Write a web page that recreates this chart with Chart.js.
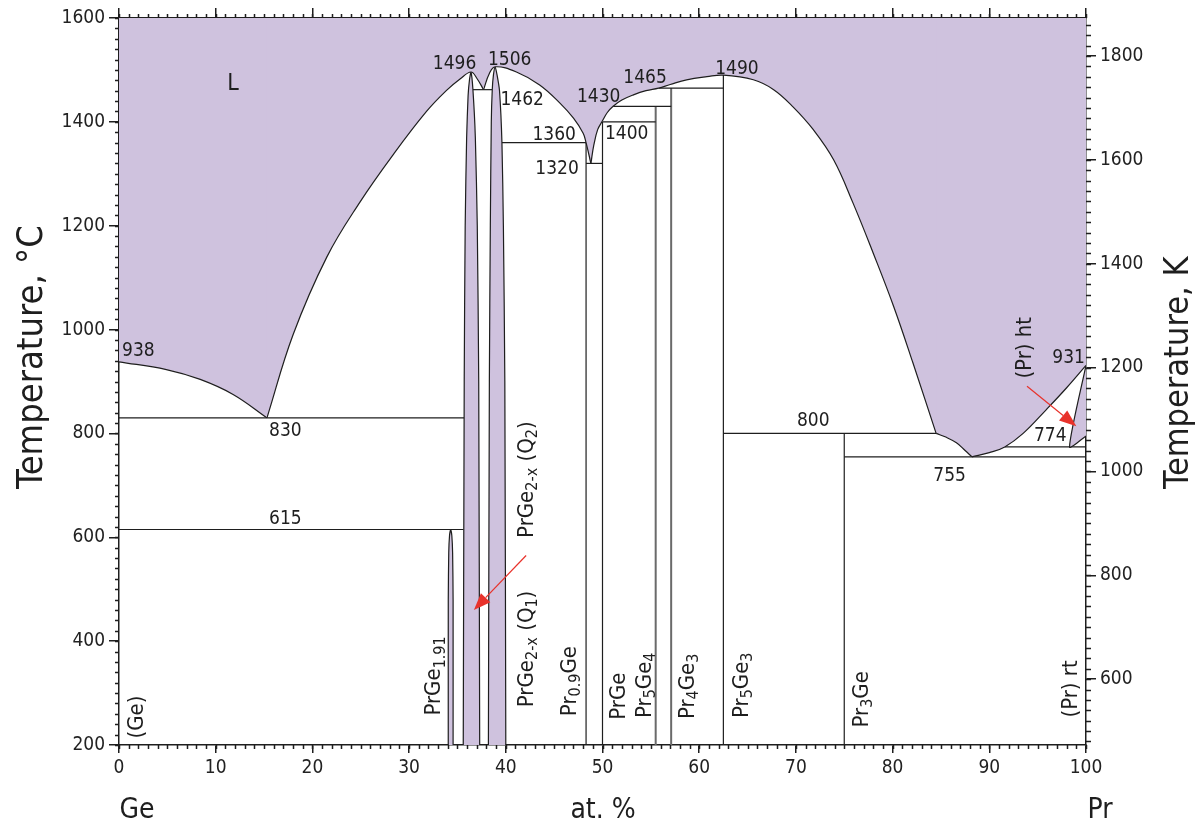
<!DOCTYPE html>
<html><head><meta charset="utf-8">
<script src="https://cdn.jsdelivr.net/npm/chart.js@4.4.1/dist/chart.umd.min.js"></script>
<style>html,body{margin:0;padding:0;background:#fff;}canvas{display:block;}</style>
</head><body>
<canvas id="c" width="1201" height="825"></canvas>
<script>
// ---------------- DATA ----------------
const xTicks  = [0,10,20,30,40,50,60,70,80,90,100];
const yTicksC = [200,400,600,800,1000,1200,1400,1600];
const yTicksK = [600,800,1000,1200,1400,1600,1800];

// liquidus branches (at.% Pr, °C)
const liqGe     = [[0,938],[4.9,923],[8.4,904],[11.8,875],[15.3,830]];
const liqQ1     = [[15.3,830],[18,990],[21.5,1140],[24.9,1245],[28.4,1338],[31.8,1420],[33.9,1461],[35.3,1483],[36.4,1496],[37.0,1484],[37.7,1462]];
const liqQ2     = [[37.7,1462],[38.3,1493],[38.9,1506],[41.1,1496],[43.5,1471],[45.6,1436],[47.0,1407],[48.0,1378],[48.3,1360],[48.8,1320]];
const liqPr5Ge3 = [[48.8,1320],[49.1,1355],[49.5,1385],[50.0,1402],[50.5,1418],[51.1,1430],[52.0,1442],[53.2,1452],[54.5,1460],[55.8,1465],[57.0,1472],[58.7,1481],[60.8,1487],[62.5,1490],[65.6,1481],[67.7,1462],[69.7,1429],[71.8,1385],[73.9,1327],[75.9,1244],[78.0,1147],[80.1,1045],[82.1,936],[84.5,800]];
const liqPr3Ge  = [[84.5,800],[85.5,793],[86.6,782],[87.5,767],[88.2,755]];
const liqPr     = [[88.2,755],[90.0,763],[91.6,774],[93.5,800],[95.9,846],[98.0,888],[100,931]];

// homogeneity ranges (closed shapes)
const lensPrGe191 = [[34.05,200],[34.05,480],[34.1,570],[34.18,603],[34.3,615],[34.42,603],[34.5,570],[34.55,480],[34.55,200]];
const lensQ1 = [[35.6,200],[35.7,900],[35.8,1200],[35.95,1370],[36.1,1450],[36.25,1482],[36.4,1496],[36.6,1462],[36.85,1370],[37.05,1200],[37.2,900],[37.3,200]];
const lensQ2 = [[38.2,200],[38.3,900],[38.4,1200],[38.5,1400],[38.6,1462],[38.72,1490],[38.9,1506],[39.1,1490],[39.35,1460],[39.6,1360],[39.75,1200],[39.9,900],[40.0,200]];
const prHt   = [[100,931],[98.3,774],[100,795]];

// invariant lines [x1, x2, T]
const hLines = [[0,35.7,830],[0,35.65,615],[36.6,38.6,1462],[39.6,48.3,1360],[48.3,50,1320],[50,55.5,1400],[51.1,57.1,1430],[55.8,62.5,1465],[62.5,84.5,800],[75,100,755],[91.6,100,774]];
// compound lines [x, T1, T2]
const vLines = [[48.3,200,1360],[50,200,1400],[62.5,200,1490],[75,200,800]];
const vLinesGray = [[55.5,200,1430],[57.1,200,1465]];

// number labels [text, x, T]
const numLabels = [['938',2.0,962],['830',17.2,808],['615',17.2,638],['1496',34.7,1515],['1506',40.4,1523],['1462',41.7,1446],
  ['1360',45.0,1379],['1320',45.3,1312],['1430',49.6,1452],['1400',52.5,1381],['1465',54.4,1488],['1490',63.9,1506],
  ['800',71.8,827],['755',85.9,721],['774',96.3,798],['931',98.2,948]];
// phase labels (rotated) [parts, x, T]; part = [text, isSubscript]
const phaseLabels = [
  [[['(Ge)']],1.7,254],
  [[['PrGe'],['1.91',1]],32.4,333],
  [[['PrGe'],['2-x',1],[' (Q'],['1',1],[')']],42.0,385],
  [[['PrGe'],['2-x',1],[' (Q'],['2',1],[')']],42.0,711],
  [[['Pr'],['0.9',1],['Ge']],46.4,323],
  [[['PrGe']],51.5,294],
  [[['Pr'],['5',1],['Ge'],['4',1]],54.2,315],
  [[['Pr'],['4',1],['Ge'],['3',1]],58.6,313],
  [[['Pr'],['5',1],['Ge'],['3',1]],64.2,315],
  [[['Pr'],['3',1],['Ge']],76.6,288],
  [[['(Pr) rt']],98.3,308],
  [[['(Pr) ht']],93.5,965]
];
// arrows [x0, T0, x1, T1]
const arrows = [[42.1,565,36.7,460],[93.9,891,99.0,814]];

// ---------------- STYLE ----------------
const FONT = '"DejaVu Sans Condensed","DejaVu Sans",sans-serif';
const PURPLE = '#cfc2de';
const INK = '#1e1e1e';
const pts = a => a.map(p => ({x:p[0], y:p[1]}));

const liquidus = [liqGe, liqQ1, liqQ2, liqPr5Ge3, liqPr3Ge, liqPr];
const datasets = [];
liquidus.forEach(seg => datasets.push({
  data: pts(seg), showLine:true, fill:'end', backgroundColor:PURPLE, borderColor:INK, borderWidth:1.2,
  pointRadius:0, tension:0.4
}));
[lensPrGe191, lensQ1, lensQ2, prHt].forEach(seg => datasets.push({
  data: pts(seg), showLine:true, fill:'shape', backgroundColor:PURPLE, borderColor:INK, borderWidth:1.2,
  pointRadius:0, tension:0.2
}));
hLines.forEach(l => datasets.push({data: pts([[l[0],l[2]],[l[1],l[2]]]), showLine:true, fill:false, borderColor:INK, borderWidth:1.2, pointRadius:0}));
vLines.forEach(l => datasets.push({data: pts([[l[0],l[1]],[l[0],l[2]]]), showLine:true, fill:false, borderColor:INK, borderWidth:1.2, pointRadius:0}));
vLinesGray.forEach(l => datasets.push({data: pts([[l[0],l[1]],[l[0],l[2]]]), showLine:true, fill:false, borderColor:'#6a6a6a', borderWidth:2, pointRadius:0}));
// purple strokes under the junctions of liquidus branches (hide fill seams)
liquidus.slice(1).forEach(seg => datasets.push({data: pts([[seg[0][0], seg[0][1]+4],[seg[0][0],1600]]), showLine:true, fill:false,
  borderColor:PURPLE, borderWidth:2.5, pointRadius:0, order:10}));

function drawRich(ctx, parts, px, py, size, vertical, align) {
  const sub = Math.round(size*0.72);
  let total = 0;
  const w = parts.map(p => { ctx.font = `${p[1]?sub:size}px ${FONT}`; const m = ctx.measureText(p[0]).width; total += m; return m; });
  ctx.save();
  ctx.translate(px, py);
  if (vertical) ctx.rotate(-Math.PI/2);
  ctx.textAlign = 'left'; ctx.textBaseline = 'alphabetic';
  let cx = align === 'start' ? 0 : -total/2;
  const base = size*0.36;
  parts.forEach((p,i) => { ctx.font = `${p[1]?sub:size}px ${FONT}`; ctx.fillText(p[0], cx, base + (p[1]? size*0.2 : 0)); cx += w[i]; });
  ctx.restore();
}

const overlay = {
  id:'overlay',
  afterDraw(chart) {
    const ctx = chart.ctx, xs = chart.scales.x, ys = chart.scales.y, yk = chart.scales.yK;
    const a = chart.chartArea;
    ctx.save();
    // minor ticks
    ctx.strokeStyle = INK; ctx.lineWidth = 1.5;
    ctx.beginPath();
    for (let v = 0; v <= 100; v += 1) {
      const px = Math.round(xs.getPixelForValue(v)) + 0.5;
      ctx.moveTo(px, a.bottom); ctx.lineTo(px, a.bottom + 4);
      ctx.moveTo(px, a.top); ctx.lineTo(px, a.top - 4);
    }
    for (let v = 200; v <= 1600; v += 20) {
      const py = Math.round(ys.getPixelForValue(v)) + 0.5;
      ctx.moveTo(a.left, py); ctx.lineTo(a.left - 4, py);
    }
    for (let v = 480; v <= 1860; v += 20) {
      const py = Math.round(yk.getPixelForValue(v)) + 0.5;
      ctx.moveTo(a.right, py); ctx.lineTo(a.right + 5, py);
    }
    ctx.stroke();
    // arrows
    ctx.strokeStyle = '#e8322b'; ctx.fillStyle = '#e8322b'; ctx.lineWidth = 1.2;
    arrows.forEach(r => {
      const x0 = xs.getPixelForValue(r[0]), y0 = ys.getPixelForValue(r[1]);
      const x1 = xs.getPixelForValue(r[2]), y1 = ys.getPixelForValue(r[3]);
      const ang = Math.atan2(y1-y0, x1-x0), L = 17, H = 6.5;
      const bx = x1 - L*Math.cos(ang), by = y1 - L*Math.sin(ang);
      ctx.beginPath(); ctx.moveTo(x0,y0); ctx.lineTo(bx,by); ctx.stroke();
      ctx.beginPath(); ctx.moveTo(x1,y1);
      ctx.lineTo(bx + H*Math.sin(ang), by - H*Math.cos(ang));
      ctx.lineTo(bx - H*Math.sin(ang), by + H*Math.cos(ang));
      ctx.closePath(); ctx.fill();
    });
    // texts
    ctx.fillStyle = '#1e1e1e';
    numLabels.forEach(l => drawRich(ctx, [[l[0]]], xs.getPixelForValue(l[1]), ys.getPixelForValue(l[2]), 19, false));
    drawRich(ctx, [['L']], xs.getPixelForValue(11.8), ys.getPixelForValue(1477), 23, false);
    phaseLabels.forEach(l => drawRich(ctx, l[0], xs.getPixelForValue(l[1]), ys.getPixelForValue(l[2]), 22, true));
    // axis titles
    drawRich(ctx, [['Temperature, °C']], 29, 489, 36, true, 'start');
    drawRich(ctx, [['Temperature, K']], 1176, 489, 34, true, 'start');
    drawRich(ctx, [['Ge']], 137, 808, 28, false);
    drawRich(ctx, [['at. %']], 603, 808, 28, false);
    drawRich(ctx, [['Pr']], 1100, 808, 28, false);
    ctx.restore();
  }
};

const tickFont = {family:FONT, size:19};
const tickCb = v => String(v);
const gridOpt = len => ({drawOnChartArea:false, drawTicks:true, tickLength:len, color:INK, lineWidth:1.5});
const borderOpt = {display:true, color:INK, width:1.5};
const setTicks = arr => (s => { s.ticks = arr.map(v => ({value:v})); });

new Chart(document.getElementById('c'), {
  type:'scatter',
  data:{datasets},
  options:{
    responsive:false, animation:false, devicePixelRatio:1,
    layout:{padding:0},
    plugins:{legend:{display:false}, tooltip:{enabled:false}},
    scales:{
      x:{type:'linear', position:'bottom', min:0, max:100,
         afterBuildTicks:setTicks(xTicks),
         ticks:{font:tickFont, color:'#222', padding:4, maxRotation:0, autoSkip:false, callback:tickCb},
         grid:gridOpt(8), border:borderOpt, afterFit:s=>{s.height=80;}},
      x2:{type:'linear', position:'top', min:0, max:100,
         afterBuildTicks:setTicks(xTicks),
         ticks:{display:false}, grid:gridOpt(10), border:borderOpt, afterFit:s=>{s.height=18;}},
      y:{type:'linear', position:'left', min:200, max:1600,
         afterBuildTicks:setTicks(yTicksC),
         ticks:{font:tickFont, color:'#222', padding:4, callback:tickCb},
         grid:gridOpt(10), border:borderOpt, afterFit:s=>{s.width=119;}},
      yK:{type:'linear', position:'right', min:473.15, max:1873.15,
         afterBuildTicks:setTicks(yTicksK),
         ticks:{font:tickFont, color:'#222', padding:4, callback:tickCb},
         grid:gridOpt(10), border:borderOpt, afterFit:s=>{s.width=115;}}
    }
  },
  plugins:[overlay]
});
</script>
</body></html>
